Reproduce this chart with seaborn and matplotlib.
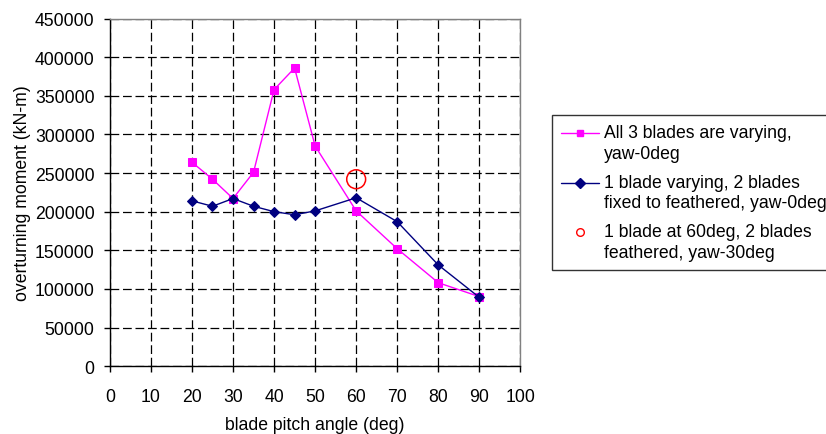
import numpy as np
import pandas as pd
import matplotlib
matplotlib.use("Agg")
import matplotlib.pyplot as plt
from matplotlib.legend_handler import HandlerLine2D
import seaborn as sns

# Data
pitch = [20, 25, 30, 35, 40, 45, 50, 60, 70, 80, 90]
all_three = [264000, 242000, 217000, 251000, 358000, 386000, 285000, 201000, 152000, 108000, 90000]
one_blade = [214000, 207000, 217000, 207000, 200000, 196000, 201000, 218000, 187000, 131000, 89000]
yaw30_pitch = [60]
yaw30_moment = [242000]

label_all = "All 3 blades are varying,\nyaw-0deg"
label_one = "1 blade varying, 2 blades\nfixed to feathered, yaw-0deg"
label_yaw = "1 blade at 60deg, 2 blades\nfeathered, yaw-30deg"

FS = 12.7

sns.set_style("white")
plt.rcParams["font.family"] = ["Liberation Sans", "DejaVu Sans"]
plt.rcParams["font.size"] = FS
plt.rcParams["text.color"] = "black"
plt.rcParams["axes.labelcolor"] = "black"
plt.rcParams["xtick.color"] = "black"
plt.rcParams["ytick.color"] = "black"


# legend handles sit next to the first line of a two-line label
class FirstLineHandler(HandlerLine2D):
    def create_artists(self, legend, orig_handle, xdescent, ydescent,
                       width, height, fontsize, trans):
        arts = super().create_artists(legend, orig_handle, xdescent, ydescent,
                                      width, height, fontsize, trans)
        for a in arts:
            a.set_ydata(np.asarray(a.get_ydata()) + 0.58 * fontsize)
        return arts


fig = plt.figure(figsize=(8.26, 4.35), dpi=100)
ax = fig.add_axes([0.133, 0.156, 0.497, 0.799])

df = pd.DataFrame({"pitch": pitch, "all": all_three, "one": one_blade})

sns.lineplot(data=df, x="pitch", y="all", ax=ax, color="#ff00ff", marker="s",
             markersize=6, markeredgecolor="#ff00ff", linewidth=1.0, label=label_all)
sns.lineplot(data=df, x="pitch", y="one", ax=ax, color="#000080", marker="D",
             markersize=5.5, markeredgecolor="#000080", linewidth=1.0, label=label_one)
sns.scatterplot(x=yaw30_pitch, y=yaw30_moment, ax=ax, marker="o", s=185,
                facecolor="none", edgecolor="red", linewidth=1.1, label=label_yaw)

ax.set_xlim(0, 100)
ax.set_ylim(0, 450000)
ax.set_xticks(np.arange(0, 101, 10))
ax.set_yticks(np.arange(0, 450001, 50000))
ax.grid(True, color="black", linestyle=(0, (7, 3)), linewidth=0.9)
ax.set_axisbelow(True)

for side in ["left", "bottom"]:
    ax.spines[side].set_color("black")
    ax.spines[side].set_linewidth(1.0)
for side in ["top", "right"]:
    ax.spines[side].set_color("#808080")
    ax.spines[side].set_linewidth(1.0)

ax.tick_params(axis="both", direction="out", length=4, width=1, color="black",
               labelsize=FS, bottom=True, left=True)
ax.tick_params(axis="x", pad=12)
ax.tick_params(axis="y", pad=7)
ax.set_xlabel("blade pitch angle (deg)", fontsize=FS, labelpad=8)
ax.set_ylabel("overturning moment (kN-m)", fontsize=FS, labelpad=3)

# own legend handles: smaller markers than in the plot
handles = [
    plt.Line2D([], [], color="#ff00ff", marker="s", markersize=5, linewidth=1.0),
    plt.Line2D([], [], color="#000080", marker="D", markersize=5, linewidth=1.0),
    plt.Line2D([], [], linestyle="none", marker="o", markersize=5.5,
               markerfacecolor="none", markeredgecolor="red"),
]
ax.legend_.remove()
leg = fig.legend(handles, [label_all, label_one, label_yaw], loc="upper left",
                 bbox_to_anchor=(0.668, 0.733), frameon=True, fancybox=False,
                 edgecolor="black", fontsize=FS, handlelength=2.2, borderaxespad=0,
                 borderpad=0.5, labelspacing=0.66, handletextpad=0.25,
                 handler_map={plt.Line2D: FirstLineHandler()})
leg.get_frame().set_linewidth(1.0)
for t in leg.get_texts():
    t.set_linespacing(1.3)

fig.savefig("out.png", dpi=100)
